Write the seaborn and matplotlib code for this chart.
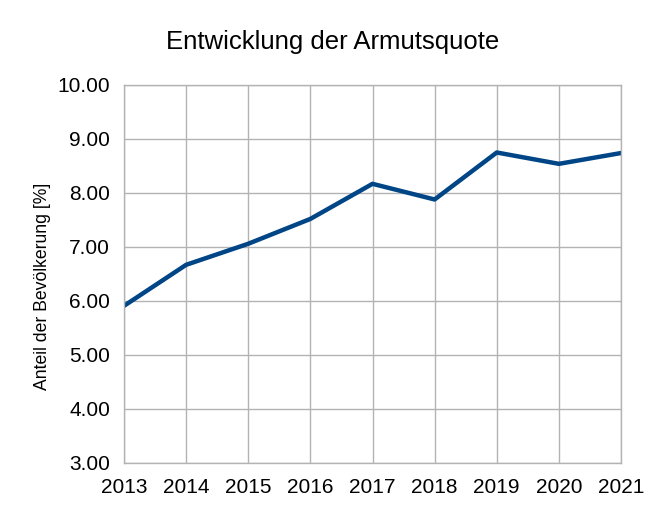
import matplotlib
matplotlib.use("Agg")
import matplotlib.pyplot as plt
import seaborn as sns
import pandas as pd

years = [2013, 2014, 2015, 2016, 2017, 2018, 2019, 2020, 2021]
values = [5.91, 6.67, 7.06, 7.52, 8.17, 7.88, 8.75, 8.54, 8.74]
yticks = [3, 4, 5, 6, 7, 8, 9, 10]

sns.set_theme(style="white")
plt.rcParams['font.family'] = ['Liberation Sans', 'DejaVu Sans']

df = pd.DataFrame({"Jahr": years, "Anteil": values})

fig = plt.figure(figsize=(6.67, 5.09), dpi=100)
ax = fig.add_axes([124/667, 1-463/509, (621-124)/667, (463-85)/509])

sns.lineplot(data=df, x="Jahr", y="Anteil", ax=ax, color="#004586", linewidth=3.2)

ax.set_xlim(years[0], years[-1])
ax.set_ylim(3, 10)
ax.set_xticks(years)
ax.set_xticklabels([str(y) for y in years])
ax.set_yticks(yticks)
ax.set_yticklabels([f"{v:.2f}" for v in yticks])
ax.grid(True, color="#b3b3b3", linewidth=1)
ax.set_axisbelow(True)
for s in ax.spines.values():
    s.set_color("#b3b3b3")
    s.set_linewidth(1)
ax.tick_params(axis="both", which="both", width=1, color="#b3b3b3",
               labelsize=15, labelcolor="black", direction="out")
ax.tick_params(axis="x", length=10, pad=1)
ax.tick_params(axis="y", length=7, pad=3)
ax.set_xlabel("")
ax.set_ylabel("Anteil der Bevölkerung [%]", fontsize=12.7, color="black")
ax.yaxis.set_label_coords((43 - 124) / (621 - 124), (463 - 286) / (463 - 85))
ax.yaxis.label.set_va("center")
fig.text(333/667, 1-42/509, "Entwicklung der Armutsquote", ha="center", va="center",
         fontsize=18.5, color="black")

fig.savefig("out.png", dpi=100)
